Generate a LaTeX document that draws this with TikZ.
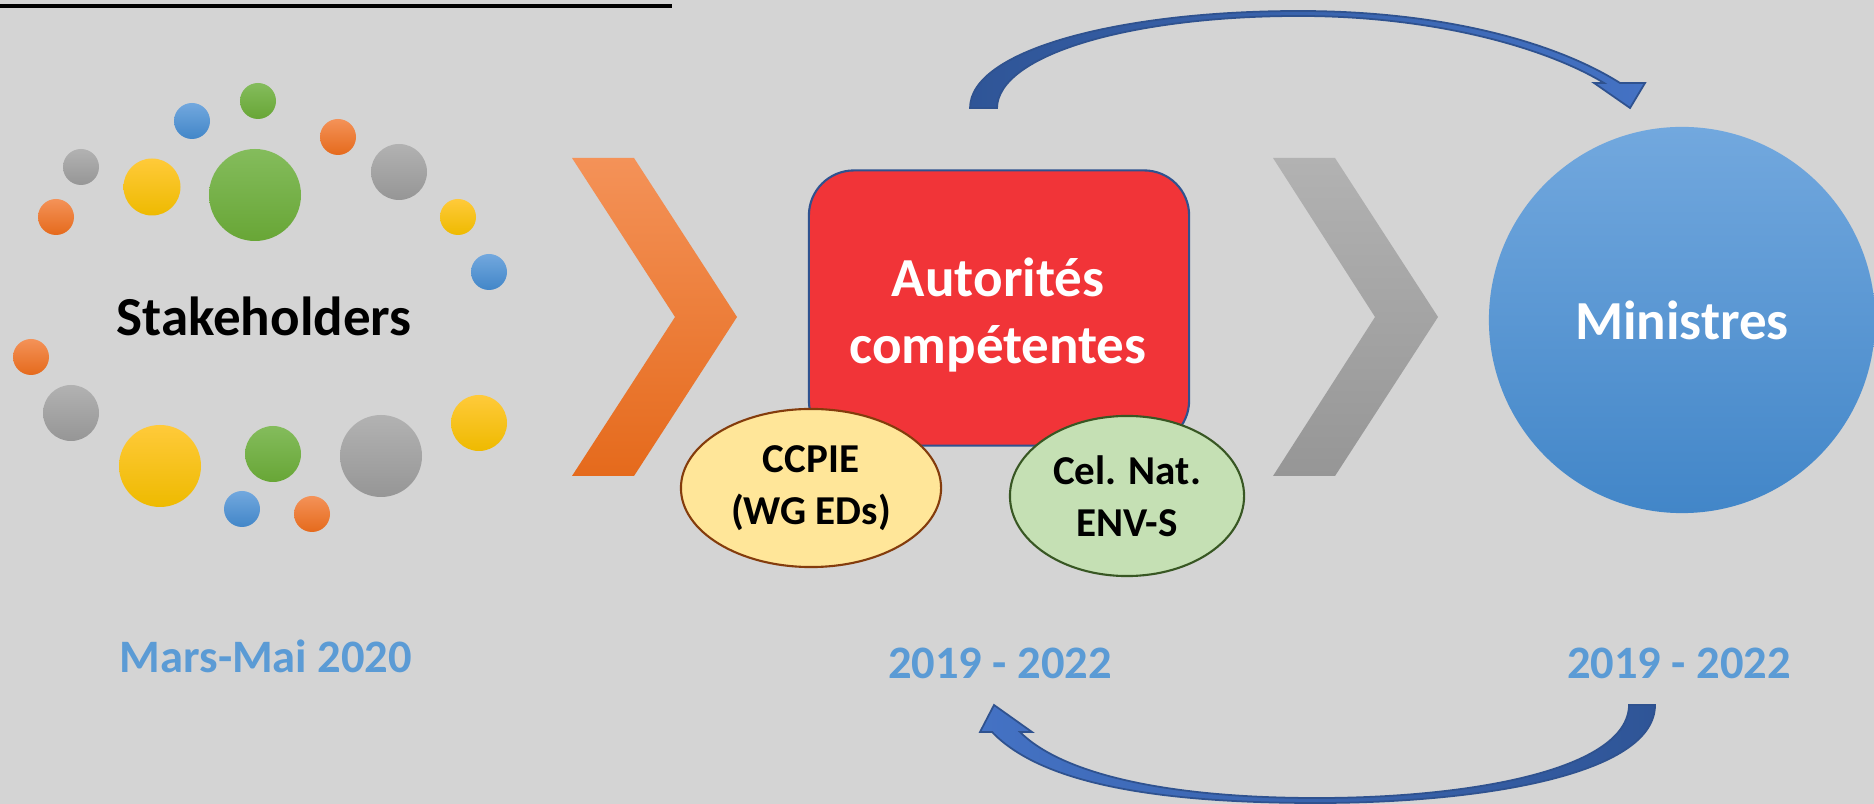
\documentclass[tikz,border=0pt]{standalone}
\usepackage{fontspec}
\setmainfont{Carlito}
\usetikzlibrary{shapes.geometric}

\definecolor{bggray}{RGB}{212,212,212}
\definecolor{orangetop}{RGB}{244,146,88}
\definecolor{orangebot}{RGB}{229,106,28}
\definecolor{graytop}{RGB}{178,178,178}
\definecolor{graybot}{RGB}{150,150,150}
\definecolor{yellowtop}{RGB}{255,202,58}
\definecolor{yellowbot}{RGB}{238,186,0}
\definecolor{greentop}{RGB}{132,188,92}
\definecolor{greenbot}{RGB}{104,166,54}
\definecolor{bluetop}{RGB}{114,168,222}
\definecolor{bluebot}{RGB}{66,134,200}
\definecolor{autred}{RGB}{241,52,56}
\definecolor{edgeblue}{RGB}{47,82,143}
\definecolor{ccpiefill}{RGB}{255,230,153}
\definecolor{ccpieedge}{RGB}{132,60,12}
\definecolor{celfill}{RGB}{197,224,180}
\definecolor{celedge}{RGB}{56,87,35}
\definecolor{arrowdark}{RGB}{47,85,151}
\definecolor{arrowlight}{RGB}{68,114,196}
\definecolor{datelabel}{RGB}{91,155,213}

\tikzset{
  orangedot/.style={top color=orangetop, bottom color=orangebot},
  graydot/.style={top color=graytop, bottom color=graybot},
  yellowdot/.style={top color=yellowtop, bottom color=yellowbot},
  greendot/.style={top color=greentop, bottom color=greenbot},
  bluedot/.style={top color=bluetop, bottom color=bluebot},
  bigtext/.style={font=\fontsize{15.65}{19.06}\selectfont\bfseries},
  smalltext/.style={font=\fontsize{11.67}{14.7}\selectfont\bfseries, align=center, inner sep=0pt},
  datetext/.style={font=\fontsize{13.23}{16}\selectfont\bfseries, text=datelabel, anchor=base},
  bluearrow/.style={draw=edgeblue, line width=0.5pt}
}

\begin{document}
\begin{tikzpicture}[x=0.01cm, y=-0.01cm]
			%%%%% START %%%%%
			
			\fill[bggray] (0, 0) rectangle (1874, 804);
			\useasboundingbox (0, 0) rectangle (1874, 804);
			
			\draw[line width=1pt] (0, 6) -- (672, 6);
			
			% stakeholders dots
			\shade[greendot] (258, 101) circle (18);
			\shade[bluedot] (192, 121) circle (18);
			\shade[orangedot] (338, 137) circle (18);
			\shade[graydot] (81, 167) circle (18);
			\shade[yellowdot] (152, 187) circle (28.5);
			\shade[greendot] (255, 195) circle (46);
			\shade[graydot] (399, 172) circle (28);
			\shade[orangedot] (56, 217) circle (18);
			\shade[yellowdot] (458, 217) circle (18);
			\shade[bluedot] (489, 272) circle (18);
			
			\shade[orangedot] (31, 357) circle (18);
			\shade[graydot] (71, 413) circle (28);
			\shade[yellowdot] (160, 466) circle (41);
			\shade[greendot] (273, 454) circle (28);
			\shade[graydot] (381, 456) circle (41);
			\shade[yellowdot] (479, 423) circle (28);
			\shade[bluedot] (242, 509) circle (18);
			\shade[orangedot] (312, 514) circle (18);
			
			\node[bigtext, anchor=base] (stake) at (264, 335.7) {Stakeholders};
			
			% chevrons
			\shade[top color=orangetop, bottom color=orangebot] (572, 158) -- (634, 158) -- (737, 317) -- (634, 476) -- (572, 476) -- (675, 317) -- cycle;
			\shade[top color=graytop, bottom color=graybot] (1273, 158) -- (1335, 158) -- (1438, 317) -- (1335, 476) -- (1273, 476) -- (1375, 317) -- cycle;
			
			% autorites
			\node[draw=edgeblue, fill=autred, line width=0.6pt, rounded corners=0.45cm, minimum width=3.8cm, minimum height=2.75cm] (autbox) at (999, 308) {};
			\node[bigtext, text=white, align=center, inner sep=0pt] (auttext) at (998, 315) {Autorités\\compétentes};
			
			\node[smalltext, ellipse, draw=ccpieedge, fill=ccpiefill, line width=0.6pt, minimum width=2.6cm, minimum height=1.58cm] (ccpie) at (811, 488) {CCPIE\\(WG EDs)};
			\node[smalltext, ellipse, draw=celedge, fill=celfill, line width=0.6pt, minimum width=2.34cm, minimum height=1.6cm] (celnat) at (1127, 496) {Cel. Nat.\\ENV-S};
			
			% ministres
			\node[circle, minimum size=3.86cm, top color=bluetop, bottom color=bluebot, text=white, bigtext] (min) at (1682, 320) {Ministres};
			
			% curved arrows
			\shade[bluearrow, left color=arrowdark, right color=arrowlight] (970, 108) .. controls (970, 50) and (1120, 11) .. (1299, 11) .. controls (1450, 11) and (1560, 45) .. (1620, 83) -- (1645, 83) -- (1630, 108) -- (1594, 83) -- (1604, 83) .. controls (1550, 50) and (1440, 16) .. (1299, 16) .. controls (1130, 16) and (998, 55) .. (997, 108) -- cycle;
			\shade[bluearrow, left color=arrowlight, right color=arrowdark] (1629, 705) -- (1655, 705) .. controls (1655, 775) and (1480, 803) .. (1317, 803) .. controls (1150, 803) and (1040, 782) .. (992, 732) -- (980, 732) -- (994, 705) -- (1032, 732) -- (1020, 732) .. controls (1060, 772) and (1160, 798) .. (1317, 798) .. controls (1470, 798) and (1628, 770) .. (1629, 705) -- cycle;
			
			% dates
			\node[datetext] (date1) at (266, 672.7) {Mars-Mai 2020};
			\node[datetext] (date2) at (1000, 678) {2019 - 2022};
			\node[datetext] (date3) at (1679, 678) {2019 - 2022};
			
			%%%%% END %%%%%
\end{tikzpicture}
\end{document}
